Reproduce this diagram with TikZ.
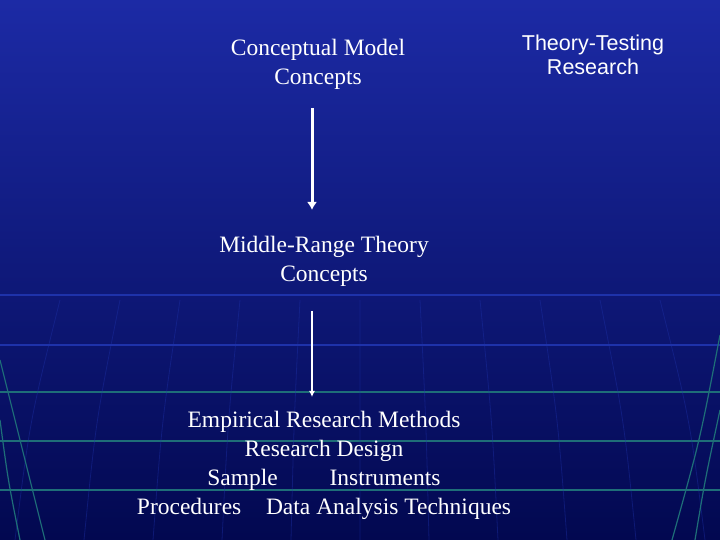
\documentclass[tikz,border=0pt]{standalone}
\usetikzlibrary{arrows.meta}
\usepackage{fontspec}
\setmainfont{Liberation Serif}
\setsansfont{Liberation Sans}
\definecolor{bgtop}{RGB}{28,42,165}
\definecolor{bgbot}{RGB}{2,8,80}
\definecolor{gridteal}{RGB}{30,110,120}
\definecolor{gridblue}{RGB}{30,50,170}
\begin{document}
\begin{tikzpicture}[x=1pt,y=1pt,
  serif/.style={text=white,font=\fontsize{23.5}{29}\selectfont,align=center,inner sep=0pt},
  sans/.style={text=white,font=\sffamily\fontsize{21.5}{24}\selectfont,align=center,inner sep=0pt},
  arr/.style={draw=white}]
\useasboundingbox (0,0) rectangle (720,540);
\shade[top color=bgtop,bottom color=bgbot] (0,0) rectangle (720,540);
% grid
\foreach \y in {195,245} \draw[gridblue,line width=1.2pt] (0,\y) -- (720,\y);
\foreach \y in {50,99,148} \draw[gridteal,line width=1.2pt] (0,\y) -- (720,\y);
\foreach \x in {60,120,180,240,300,360,420,480,540,600,660}
  \draw[gridblue,line width=0.8pt,opacity=0.4] (\x,240) .. controls (\x+0.1*\x-36,120) .. (\x+0.15*\x-54,0);
\draw[gridteal,line width=1.2pt] (0,180) .. controls (20,100) .. (45,0);
\draw[gridteal,line width=1.2pt] (0,120) .. controls (8,60) .. (20,0);
\draw[gridteal,line width=1.2pt] (720,205) .. controls (700,100) .. (672,0);
\draw[gridteal,line width=1.2pt] (720,130) .. controls (705,60) .. (695,0);
% nodes
\node[serif] (cm) at (318,476) {Conceptual Model\\Concepts};
\node[sans] (tt) at (593,485) {Theory-Testing\\Research};
\node[serif] (mr) at (324,279) {Middle-Range Theory\\Concepts};
\node[serif] (er) at (324,75) {Empirical Research Methods\\Research Design\\Sample\hspace{2.2em}Instruments\\Procedures\hspace{0.8em} Data Analysis Techniques};
\coordinate (a1s) at (312,432);
\coordinate (a1e) at (312,330);
\coordinate (a2s) at (312,229);
\coordinate (a2e) at (312,143);
\draw[arr,line width=3pt,-{Latex[length=8pt,width=10pt]}] (a1s) -- (a1e);
\draw[arr,line width=1.3pt,-{Latex[length=6pt,width=6pt]}] (a2s) -- (a2e);
\end{tikzpicture}
\end{document}
